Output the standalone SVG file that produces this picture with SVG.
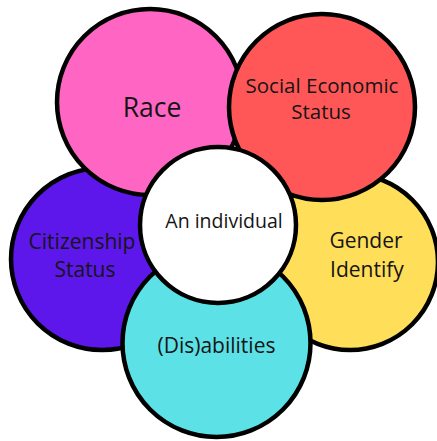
<svg xmlns="http://www.w3.org/2000/svg" width="437" height="441" viewBox="0 0 437 441">
<style>
.c{stroke:#000;stroke-width:4.5}
.t{font-family:"Open Sans","Noto Sans","Liberation Sans",sans-serif;fill:#151515;text-anchor:middle}
</style>
<rect width="437" height="441" fill="#fff"/>
<g id="citizenship">
<circle class="c" cx="102" cy="259" r="91" fill="#5E17EB"/>
<text class="t" x="82" y="249" font-size="21">Citizenship</text>
<text class="t" x="85" y="277" font-size="21">Status</text>
</g>
<g id="gender">
<circle class="c" cx="350" cy="262" r="88" fill="#FFDE59"/>
<text class="t" x="366" y="248" font-size="21">Gender</text>
<text class="t" x="367" y="277" font-size="21">Identify</text>
</g>
<g id="race">
<circle class="c" cx="150" cy="102" r="93" fill="#FF66C4"/>
<text class="t" x="152" y="117" font-size="26.5">Race</text>
</g>
<g id="ses">
<circle class="c" cx="322" cy="107" r="93" fill="#FF5757"/>
<text class="t" x="322" y="93" font-size="20.5">Social Economic</text>
<text class="t" x="321" y="119" font-size="20.5">Status</text>
</g>
<g id="disabilities">
<circle class="c" cx="216.5" cy="343" r="94" fill="#5CE1E6"/>
<text class="t" x="216.5" y="353" font-size="21">(Dis)abilities</text>
</g>
<g id="individual">
<circle class="c" cx="218" cy="225" r="78" fill="#fff"/>
<text class="t" x="224" y="228" font-size="19.5">An individual</text>
</g>
<g id="connectors"></g>
</svg>
